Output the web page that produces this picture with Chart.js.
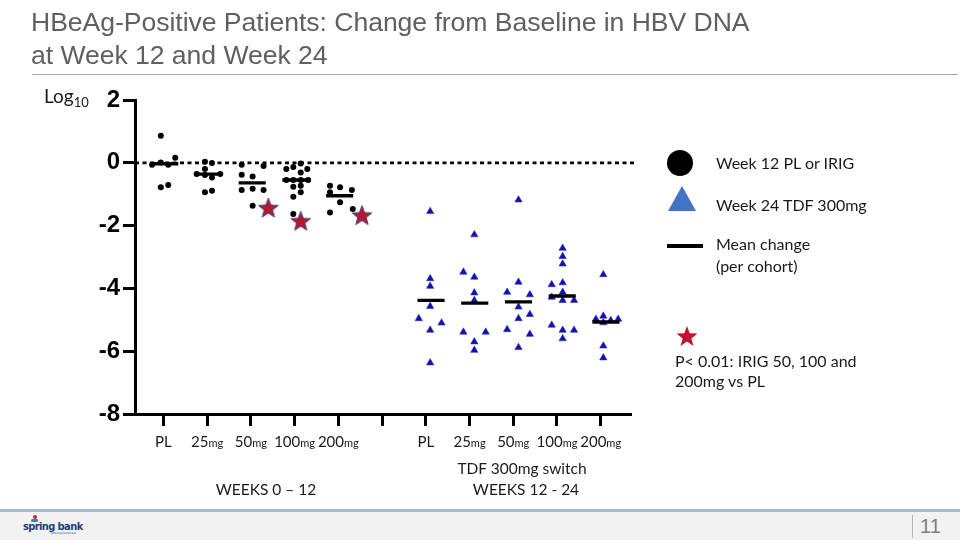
<!DOCTYPE html>
<html><head><meta charset="utf-8">
<script src="https://cdn.jsdelivr.net/npm/chart.js@4.4.0/dist/chart.umd.min.js"></script>
<style>
html,body{margin:0;padding:0;background:#fff;}
#wrap{position:relative;width:960px;height:540px;overflow:hidden;font-family:Lato,"Liberation Sans",sans-serif;color:#1a1a1a;}
#c{position:absolute;left:0;top:0;}
.t{position:absolute;white-space:nowrap;line-height:20px;font-size:16px;}
.g{position:absolute;white-space:nowrap;line-height:20px;font-size:15.5px;text-align:center;width:200px;}
.title{position:absolute;left:31px;top:6px;font-family:"Liberation Sans",Arial,sans-serif;font-size:26.6px;line-height:33px;color:#606060;white-space:nowrap;letter-spacing:-0.05px;}
.rule{position:absolute;left:32px;top:74px;width:926px;height:1px;background:#a6a6a6;}
.foot{position:absolute;left:0;top:509px;width:960px;height:31px;background:#f2f2f2;border-top:3px solid #a4b8d8;}
.sep{position:absolute;left:912px;top:515px;width:1px;height:23px;background:#b5b5b5;}
.pg{position:absolute;left:920px;top:514px;font-family:"Liberation Sans Narrow","Liberation Sans",sans-serif;font-size:20px;line-height:24px;color:#7f7f7f;}
.logo{position:absolute;left:23px;top:521px;font-family:"DejaVu Sans Condensed","DejaVu Sans",sans-serif;font-weight:bold;font-size:11px;line-height:12px;color:#1f3f7c;letter-spacing:-0.6px;}
.logo small{position:absolute;left:28px;top:11px;font-size:3px;line-height:3px;color:#7a8bb0;letter-spacing:0;}
.fig{position:absolute;left:33px;top:515px;width:4px;height:4px;border-radius:50%;background:#d0202e;}
.fig2{position:absolute;left:31px;top:519px;width:7px;height:3px;border-radius:2px;background:#3a78c8;}
</style></head>
<body><div id="wrap">
<canvas id="c" width="960" height="540"></canvas>
<div class="title">HBeAg-Positive Patients: Change from Baseline in HBV DNA<br>at Week 12 and Week 24</div>
<div class="rule"></div>
<div class="t" style="left:44px;top:85px;font-size:19px;line-height:22px;">Log<span style="font-size:13px;position:relative;top:4px;">10</span></div>
<div class="t" style="left:716px;top:153px;">Week 12 PL or IRIG</div>
<div class="t" style="left:716px;top:195px;">Week 24 TDF 300mg</div>
<div class="t" style="left:716px;top:234px;">Mean change</div>
<div class="t" style="left:716px;top:256px;">(per cohort)</div>
<div class="t" style="left:675px;top:351px;">P&lt; 0.01: IRIG 50, 100 and</div>
<div class="t" style="left:675px;top:371px;">200mg vs PL</div>
<div class="g" style="left:166px;top:479px;">WEEKS 0 – 12</div>
<div class="g" style="left:422px;top:458px;">TDF 300mg switch</div>
<div class="g" style="left:426px;top:479px;">WEEKS 12 - 24</div>
<div class="foot"></div>
<div class="sep"></div>
<div class="pg">11</div>
<div class="fig"></div><div class="fig2"></div>
<div class="logo">spring bank<small>pharmaceuticals</small></div>
</div>
<script>
// ---- categories / tick labels ----
const categories = ['PL','25mg','50mg','100mg','200mg','','PL','25mg','50mg','100mg','200mg'];
const tickNums  = ['PL','25','50','100','200','','PL','25','50','100','200'];
const tickUnits = ['','mg','mg','mg','mg','','','mg','mg','mg','mg'];
const yTicks = [2,0,-2,-4,-6,-8];

// ---- Week 12 (PL or IRIG), log10 change ----
const wk12_PL   = [0.86,-0.06,0.01,-0.06,0.16,-0.78,-0.71];
const wk12_PL_j = [-0.06,-0.26,-0.06,0.11,0.27,-0.06,0.11];
const wk12_25   = [0.03,-0.01,-0.20,-0.36,-0.39,-0.47,-0.36,-0.94,-0.89];
const wk12_25_j = [-0.05,0.11,-0.05,-0.24,-0.05,0.11,0.30,-0.05,0.11];
const wk12_50   = [-0.06,-0.10,-0.38,-0.44,-0.87,-0.83,-0.87,-1.37];
const wk12_50_j = [-0.21,0.29,-0.21,0.04,-0.21,0.04,0.29,0.04];
const wk12_100  = [-0.20,-0.13,-0.02,-0.20,-0.31,-0.55,-0.55,-0.55,-0.55,-0.76,-0.73,-0.94,-1.08,-1.63];
const wk12_100_j= [-0.19,-0.03,0.14,0.29,0.14,-0.19,-0.03,0.14,0.31,-0.03,0.14,0.14,-0.03,-0.03];
const wk12_200  = [-0.73,-0.78,-0.87,-0.94,-1.26,-1.58,-1.47];
const wk12_200_j= [-0.19,0.04,0.31,-0.19,0.04,-0.19,0.33];
const wk12_means = [-0.03,-0.36,-0.64,-0.55,-1.05];

// ---- Week 24 (TDF 300mg switch) ----
const wk24_PL   = [-1.55,-3.69,-3.93,-4.57,-4.96,-5.10,-5.33,-6.37];
const wk24_PL_j = [0.10,0.10,0.10,0.10,-0.16,0.36,0.10,0.10];
const wk24_25   = [-2.29,-3.48,-3.64,-4.14,-4.38,-5.39,-5.39,-5.70,-5.97];
const wk24_25_j = [0.11,-0.14,0.11,0.11,0.11,-0.14,0.37,0.11,0.11];
const wk24_50   = [-1.18,-3.80,-4.12,-4.20,-4.59,-4.83,-4.96,-5.31,-5.46,-5.88];
const wk24_50_j = [0.12,0.12,-0.14,0.38,0.12,0.38,0.12,-0.14,0.38,0.12];
const wk24_100  = [-2.72,-2.98,-3.22,-3.88,-3.82,-4.12,-4.28,-4.38,-4.38,-5.17,-5.33,-5.33,-5.60];
const wk24_100_j= [0.13,0.13,0.13,-0.12,0.13,0.13,-0.12,0.13,0.39,-0.12,0.13,0.39,0.13];
const wk24_200  = [-3.56,-4.98,-4.88,-5.02,-4.98,-5.09,-5.83,-6.21];
const wk24_200_j= [0.06,-0.11,0.06,0.23,0.40,0.06,0.06,0.06];
const wk24_means = [-4.38,-4.47,-4.43,-4.24,-5.07];

// ---- significance stars (group index, offset, value) ----
const starGroup  = [3,4,5];
const starOffset = [0.40,0.14,0.54];
const starValue  = [-1.44,-1.86,-1.68];

const wk12 = [[wk12_PL,wk12_PL_j],[wk12_25,wk12_25_j],[wk12_50,wk12_50_j],[wk12_100,wk12_100_j],[wk12_200,wk12_200_j]];
const wk24 = [[wk24_PL,wk24_PL_j],[wk24_25,wk24_25_j],[wk24_50,wk24_50_j],[wk24_100,wk24_100_j],[wk24_200,wk24_200_j]];

function pts(groups, base){
  const out=[];
  groups.forEach((g,i)=>g[0].forEach((v,k)=>out.push({x:base+i+g[1][k], y:v})));
  return out;
}
function meanSegs(means, base, shift){
  const out=[];
  means.forEach((m,i)=>{
    const c=base+i+shift;
    out.push({x:c-0.31,y:m},{x:c+0.31,y:m},{x:c+0.32,y:null});
  });
  return out;
}

function starPath(ctx,cx,cy,ro,ri){
  ctx.beginPath();
  for(let i=0;i<10;i++){
    const r=i%2?ri:ro, a=-Math.PI/2+i*Math.PI/5;
    const x=cx+r*Math.cos(a), y=cy+r*Math.sin(a);
    i?ctx.lineTo(x,y):ctx.moveTo(x,y);
  }
  ctx.closePath();
}
const starImg=document.createElement('canvas');
starImg.width=24; starImg.height=24;
(function(){const s=starImg.getContext('2d');starPath(s,12,12.6,10.5,4.4);s.fillStyle='#b3182e';s.fill();s.lineWidth=1;s.strokeStyle='#45458a';s.stroke();})();

const extras={
  id:'extras',
  afterDraw(chart){
    const ctx=chart.ctx, xs=chart.scales.x;
    ctx.save();
    // x tick labels with small "mg"
    ctx.fillStyle='#1a1a1a';
    ctx.textBaseline='alphabetic';
    tickNums.forEach((n,i)=>{
      if(!n) return;
      const px=xs.getPixelForValue(i+1);
      ctx.font='15px Lato'; const w1=ctx.measureText(n).width;
      ctx.font='11px Lato'; const w2=tickUnits[i]?ctx.measureText(tickUnits[i]).width:0;
      const x0=px-(w1+w2)/2;
      ctx.font='15px Lato'; ctx.fillText(n,x0,447);
      if(tickUnits[i]){ctx.font='11px Lato'; ctx.fillText(tickUnits[i],x0+w1,447);}
    });
    // legend markers
    ctx.fillStyle='#000';
    ctx.beginPath(); ctx.arc(680,163,13,0,Math.PI*2); ctx.fill();
    ctx.fillStyle='#4472c4';
    ctx.beginPath(); ctx.moveTo(682,186); ctx.lineTo(696,211); ctx.lineTo(668,211); ctx.closePath(); ctx.fill();
    ctx.strokeStyle='#000'; ctx.lineWidth=4;
    ctx.beginPath(); ctx.moveTo(667,246); ctx.lineTo(703,246); ctx.stroke();
    starPath(ctx,687,337,11,4.6); ctx.fillStyle='#c0142c'; ctx.fill();
    ctx.restore();
  }
};

new Chart(document.getElementById('c'),{
  type:'scatter',
  data:{datasets:[
    {type:'line',data:[{x:0.35,y:0},{x:11.78,y:0}],borderColor:'#000',borderWidth:2.7,borderDash:[4,3.5],pointRadius:0,clip:false,order:5},
    {data:pts(wk12,1),pointRadius:3,pointBackgroundColor:'#000',pointBorderColor:'#000',pointBorderWidth:0,order:3},
    {data:pts(wk24,7),pointStyle:'triangle',pointRadius:4.2,pointBackgroundColor:'#1212a8',pointBorderColor:'#2a2ab8',pointBorderWidth:0.6,order:3},
    {type:'line',data:meanSegs(wk12_means,1,0.03).concat(meanSegs(wk24_means,7,0.12)),borderColor:'#000',borderWidth:3.4,pointRadius:0,spanGaps:false,order:2},
    {data:starGroup.map((g,i)=>({x:g+starOffset[i],y:starValue[i]})),pointStyle:starImg,pointRadius:10,order:1}
  ]},
  options:{
    responsive:false,animation:false,
    layout:{padding:{left:0,right:330,top:100,bottom:0}},
    plugins:{legend:{display:false},tooltip:{enabled:false}},
    scales:{
      x:{type:'linear',min:0.35,max:11.67,
        afterFit(s){s.height=126;},
        afterBuildTicks(s){s.ticks=categories.map((c,i)=>({value:i+1}));},
        ticks:{callback:()=>'',font:{size:1}},
        grid:{display:true,drawOnChartArea:false,drawTicks:true,tickLength:12,tickWidth:3,tickColor:'#000',lineWidth:3,color:'#000'},
        border:{display:true,color:'#000',width:3}
      },
      y:{min:-8,max:2,
        afterFit(s){s.width=135;},
        afterBuildTicks(s){s.ticks=yTicks.map(v=>({value:v}));},
        ticks:{padding:3,color:'#000',font:{family:'"Liberation Sans", Arial, sans-serif',size:24,weight:'bold'}},
        grid:{display:true,drawOnChartArea:false,drawTicks:true,tickLength:12,tickWidth:3,tickColor:'#000',lineWidth:3,color:'#000'},
        border:{display:true,color:'#000',width:3}
      }
    }
  },
  plugins:[extras]
});
</script>
</body></html>
